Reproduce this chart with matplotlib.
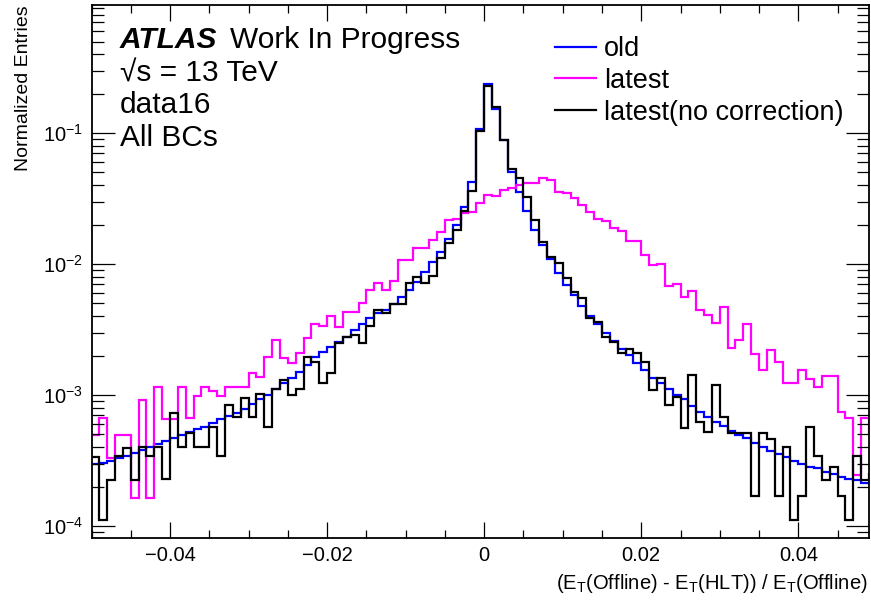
import numpy as np
import matplotlib
matplotlib.use("Agg")
import matplotlib.pyplot as plt
from matplotlib.ticker import LogLocator, MultipleLocator, FixedLocator, NullFormatter

plt.rcParams['font.family'] = ['Liberation Sans', 'DejaVu Sans']
plt.rcParams['mathtext.fontset'] = 'custom'
plt.rcParams['mathtext.rm'] = 'Liberation Sans'
plt.rcParams['mathtext.it'] = 'Liberation Sans:italic'
plt.rcParams['mathtext.bf'] = 'Liberation Sans:bold'

# 100 bins of width 0.001 between -0.05 and 0.05
bin_edges = np.linspace(-0.05, 0.05, 101)

old = [
    2.96e-4, 3.04e-4, 3.15e-4, 3.29e-4, 3.44e-4, 3.61e-4, 3.80e-4, 3.99e-4, 4.21e-4, 4.46e-4,
    4.70e-4, 4.95e-4, 5.22e-4, 5.47e-4, 5.73e-4, 6.08e-4, 6.52e-4, 6.92e-4, 7.24e-4, 7.78e-4,
    8.49e-4, 9.27e-4, 9.95e-4, 1.11e-3, 1.23e-3, 1.34e-3, 1.51e-3, 1.69e-3, 1.96e-3, 2.14e-3,
    2.31e-3, 2.55e-3, 2.79e-3, 3.13e-3, 3.48e-3, 3.85e-3, 4.21e-3, 4.46e-3, 4.95e-3, 5.62e-3,
    6.34e-3, 7.33e-3, 8.73e-3, 1.04e-2, 1.24e-2, 1.55e-2, 1.99e-2, 2.74e-2, 4.23e-2, 1.07e-1,
    2.37e-1, 1.54e-1, 8.85e-2, 5.07e-2, 3.56e-2, 2.55e-2, 1.82e-2, 1.40e-2, 1.10e-2, 8.59e-3,
    6.92e-3, 5.80e-3, 4.78e-3, 4.01e-3, 3.48e-3, 2.96e-3, 2.60e-3, 2.23e-3, 2.02e-3, 1.77e-3,
    1.55e-3, 1.36e-3, 1.23e-3, 1.11e-3, 1.00e-3, 9.27e-4, 8.24e-4, 7.46e-4, 6.82e-4, 6.25e-4,
    5.79e-4, 5.33e-4, 4.95e-4, 4.67e-4, 4.32e-4, 4.03e-4, 3.76e-4, 3.55e-4, 3.34e-4, 3.15e-4,
    2.97e-4, 2.84e-4, 2.75e-4, 2.60e-4, 2.49e-4, 2.38e-4, 2.27e-4, 2.24e-4, 2.14e-4, 2.10e-4,
]

latest = [
    4.95e-4, 6.64e-4, 3.29e-4, 4.95e-4, 4.95e-4, 1.63e-4, 9.16e-4, 1.63e-4, 1.15e-3, 6.52e-4,
    6.52e-4, 1.15e-3, 6.64e-4, 9.82e-4, 1.15e-3, 1.08e-3, 9.82e-4, 1.15e-3, 1.15e-3, 1.15e-3,
    1.47e-3, 1.38e-3, 1.96e-3, 2.63e-3, 1.91e-3, 1.75e-3, 2.08e-3, 2.71e-3, 3.48e-3, 3.36e-3,
    4.01e-3, 3.32e-3, 4.32e-3, 4.32e-3, 5.01e-3, 6.34e-3, 7.13e-3, 6.34e-3, 7.46e-3, 1.07e-2,
    1.07e-2, 1.32e-2, 1.32e-2, 1.52e-2, 1.77e-2, 2.17e-2, 2.21e-2, 2.45e-2, 2.51e-2, 2.90e-2,
    3.36e-2, 3.30e-2, 3.67e-2, 3.78e-2, 4.01e-2, 4.18e-2, 4.18e-2, 4.51e-2, 4.38e-2, 3.56e-2,
    3.48e-2, 3.22e-2, 2.82e-2, 2.51e-2, 2.19e-2, 2.14e-2, 1.87e-2, 1.80e-2, 1.51e-2, 1.51e-2,
    1.17e-2, 9.82e-3, 1.00e-2, 6.79e-3, 7.03e-3, 5.57e-3, 6.25e-3, 4.42e-3, 4.05e-3, 3.52e-3,
    4.72e-3, 2.27e-3, 2.63e-3, 3.48e-3, 2.06e-3, 1.55e-3, 2.21e-3, 1.80e-3, 1.24e-3, 1.24e-3,
    1.55e-3, 1.32e-3, 1.15e-3, 1.40e-3, 1.40e-3, 7.46e-4, 6.64e-4, 2.45e-4, 6.64e-4, 5.00e-4,
]

latest_nocorr = [
    3.38e-4, 1.12e-4, 2.24e-4, 3.42e-4, 3.92e-4, 2.24e-4, 3.99e-4, 3.42e-4, 3.99e-4, 2.27e-4,
    7.33e-4, 3.99e-4, 5.15e-4, 3.99e-4, 3.99e-4, 5.66e-4, 3.42e-4, 8.39e-4, 6.76e-4, 9.53e-4,
    6.76e-4, 1.01e-3, 5.66e-4, 1.11e-3, 1.30e-3, 1.00e-3, 1.12e-3, 1.96e-3, 1.80e-3, 1.23e-3,
    1.48e-3, 2.51e-3, 2.79e-3, 2.87e-3, 2.51e-3, 3.36e-3, 4.46e-3, 4.21e-3, 4.95e-3, 4.95e-3,
    7.13e-3, 8.00e-3, 7.13e-3, 8.09e-3, 1.12e-2, 1.46e-2, 1.83e-2, 2.56e-2, 3.63e-2, 1.04e-1,
    2.29e-1, 1.57e-1, 8.85e-2, 5.28e-2, 4.51e-2, 3.27e-2, 2.17e-2, 1.48e-2, 1.14e-2, 1.01e-2,
    7.78e-3, 6.15e-3, 5.47e-3, 3.85e-3, 3.63e-3, 2.79e-3, 2.55e-3, 2.10e-3, 2.23e-3, 2.10e-3,
    1.80e-3, 1.09e-3, 1.34e-3, 8.39e-4, 9.60e-4, 5.60e-4, 1.41e-3, 6.25e-4, 5.25e-4, 1.19e-3,
    6.76e-4, 5.10e-4, 5.10e-4, 5.10e-4, 1.69e-4, 5.10e-4, 4.59e-4, 1.69e-4, 3.99e-4, 1.12e-4,
    1.69e-4, 5.66e-4, 3.42e-4, 2.24e-4, 2.84e-4, 1.69e-4, 1.12e-4, 3.42e-4, 2.24e-4, 2.50e-4,
]

series_labels = ["old", "latest", "latest(no correction)"]
series_colors = ["#0000ff", "#ff00ff", "#000000"]

W, H = 871, 605
fig = plt.figure(figsize=(W / 100, H / 100), dpi=100)
ax = fig.add_axes([91.5 / W, 1 - 538 / H, 777.5 / W, 533 / H])

for vals, lab, col in zip([old, latest, latest_nocorr], series_labels, series_colors):
    ax.stairs(vals, bin_edges, baseline=None, color=col, linewidth=1.6, label=lab)

ax.set_xlim(-0.05, 0.049)
ax.set_yscale("log")
ax.set_ylim(8.1e-5, 0.95)

# axis ticks drawn inward on all four sides
ax.xaxis.set_major_locator(FixedLocator([-0.04, -0.02, 0.0, 0.02, 0.04]))
ax.xaxis.set_minor_locator(MultipleLocator(0.005))
ax.set_xticklabels(["\u22120.04", "\u22120.02", "0", "0.02", "0.04"])
ax.yaxis.set_major_locator(LogLocator(base=10, numticks=10))
ax.yaxis.set_minor_locator(LogLocator(base=10, subs=np.arange(2, 10), numticks=20))
ax.yaxis.set_minor_formatter(NullFormatter())
ax.tick_params(axis="both", which="both", direction="in", top=True, right=True,
               labelsize=14.5, width=0.9, color="black")
ax.tick_params(axis="x", which="major", length=11.5, pad=6)
ax.tick_params(axis="x", which="minor", length=5.8)
ax.tick_params(axis="y", which="major", length=16.5, pad=6)
ax.tick_params(axis="y", which="minor", length=8.5)
for sp in ax.spines.values():
    sp.set_linewidth(1.3)

fig.text(868 / W, 1 - 589 / H,
         r"(E$_{\mathrm{T}}$(Offline) - E$_{\mathrm{T}}$(HLT)) / E$_{\mathrm{T}}$(Offline)",
         ha="right", va="baseline", fontsize=14.5)
fig.text(23 / W, 1 - 5 / H, "Normalized Entries", rotation=90,
         ha="center", va="top", fontsize=14)

fig.text(120 / W, 1 - 48 / H, "ATLAS", fontsize=21.5, fontweight="bold",
         fontstyle="italic", va="baseline")
fig.text(230 / W, 1 - 48 / H, "Work In Progress", fontsize=21.5, va="baseline")
fig.text(120 / W, 1 - 82 / H, "\u221as = 13 TeV", fontsize=21.5, va="baseline")
fig.text(120 / W, 1 - 113 / H, "data16", fontsize=21.5, va="baseline")
fig.text(120 / W, 1 - 146 / H, "All BCs", fontsize=21.5, va="baseline")

ax.legend(handles=[plt.Line2D([], [], color=c, lw=1.6) for c in series_colors],
          labels=series_labels, loc="upper left",
          bbox_to_anchor=(555 / W, 1 - 36 / H), bbox_transform=fig.transFigure,
          frameon=False, fontsize=19.5, handlelength=1.5, handletextpad=0.3,
          labelspacing=0.22, borderaxespad=0, borderpad=0)

fig.savefig("out.png", dpi=100)
